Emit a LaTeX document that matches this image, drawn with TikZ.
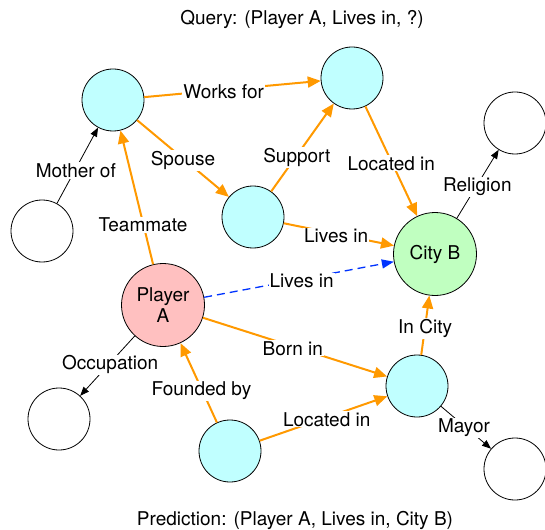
\documentclass[tikz,border=0pt]{standalone}
\usepackage{fontspec}
\setmainfont{TeX Gyre Heros}
\usetikzlibrary{arrows.meta}
\definecolor{ncyan}{HTML}{C0FFFF}
\definecolor{npink}{HTML}{FFC0C0}
\definecolor{ngreen}{HTML}{C0FFC0}
\definecolor{eorange}{HTML}{FF9900}
\definecolor{eblue}{HTML}{0033FF}
\begin{document}
\begin{tikzpicture}[x=1pt,y=-1pt,
  every node/.style={font=\fontsize{19}{21.5}\selectfont},
  ent/.style={circle,draw=black,line width=0.8pt,minimum size=62pt,inner sep=0pt},
  big/.style={circle,draw=black,line width=0.8pt,minimum size=83pt,inner sep=0pt,align=center},
  rel/.style={draw=eorange,line width=2pt,-{Triangle[length=13pt,width=11pt]}},
  aux/.style={draw=black,line width=0.8pt,-{Triangle[length=9pt,width=7pt]}},
  pred/.style={draw=eblue,line width=1.3pt,dash pattern=on 8pt off 5pt,-{Triangle[length=12pt,width=9pt]}},
  lbl/.style={fill=white,inner sep=1pt,yshift=-2pt},
]
\useasboundingbox (0,0) rectangle (545,529);
% nodes
\node[ent,fill=ncyan] (n1) at (113,100) {};
\node[ent,fill=ncyan] (n2) at (352,78) {};
\node[ent,fill=white] (n3) at (515,123) {};
\node[ent,fill=white] (mo) at (42,231) {};
\node[ent,fill=ncyan] (n4) at (253,217) {};
\node[big,fill=ngreen] (cb) at (435,254) {City B};
\node[big,fill=npink] (pa) at (163,305) {Player\\A};
\node[ent,fill=white] (oc) at (59,419) {};
\node[ent,fill=ncyan] (n5) at (417,386) {};
\node[ent,fill=ncyan] (n6) at (230,451) {};
\node[ent,fill=white] (ma) at (515,469) {};
\node (q) at (302,19) {Query: (Player A, Lives in, ?)};
\node (p) at (295,520) {Prediction: (Player A, Lives in, City B)};
% edges
\draw[rel] (n1) -- node[lbl,pos=0.45] {Works for} (n2);
\draw[rel] (n1) -- node[lbl,pos=0.5] {Spouse} (n4);
\draw[rel] (n4) -- node[lbl,pos=0.41] {Support} (n2);
\draw[rel] (n2) -- node[lbl,pos=0.5] {Located in} (cb);
\draw[rel] (n4) -- node[lbl,pos=0.475] {Lives in} (cb);
\draw[aux] (cb) -- node[lbl,pos=0.49] {Religion} (n3);
\draw[aux] (mo) -- node[lbl,pos=0.46] {Mother of} (n1);
\draw[rel] (pa) -- node[lbl,pos=0.31] {Teammate} (n1);
\draw[pred] (pa) -- node[lbl,pos=0.514] {Lives in} (cb);
\draw[rel] (pa) -- node[lbl,pos=0.488] {Born in} (n5);
\draw[aux] (pa) -- node[lbl,pos=0.45] {Occupation} (oc);
\draw[rel] (n6) -- node[lbl,pos=0.425] {Founded by} (pa);
\draw[rel] (n6) -- node[lbl,pos=0.525] {Located in} (n5);
\draw[rel] (n5) -- node[lbl,pos=0.48] {In City} (cb);
\draw[aux] (n5) -- node[lbl,pos=0.46] {Mayor} (ma);
\end{tikzpicture}
\end{document}
